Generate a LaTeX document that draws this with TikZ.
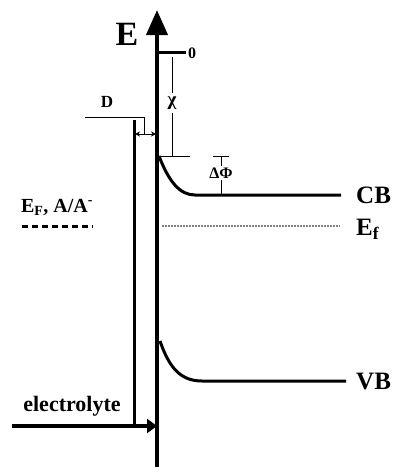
\documentclass[tikz,border=0pt]{standalone}
\usepackage{fontspec}
\setmainfont{Liberation Serif}
\usetikzlibrary{arrows.meta}

\begin{document}
\begin{tikzpicture}[x=1pt, y=-1pt,
    band/.style={line width=3pt},
    mark line/.style={line width=0.9pt},
    label/.style={font=\bfseries\fontsize{#1}{#1}\selectfont, inner sep=1pt},
    label/.default=22
]
    \useasboundingbox (0,0) rectangle (395,467);

    % Nodes
    \coordinate (axisbot) at (157,467);
    \coordinate (axistop) at (157,10);
    \node[label=34] (E) at (127,34) {E};
    \coordinate (zero0) at (157,52);
    \coordinate (zero1) at (186,52);
    \node[label=16, anchor=west] (zero) at (187,53) {0};
    \coordinate (chitop) at (172,57);
    \coordinate (chibot) at (172,156);
    \coordinate (chitick0) at (159,156);
    \coordinate (chitick1) at (190,156);
    \node[label=19, inner sep=3pt] (chi) at (172,103) {χ};
    \node[label=17] (D) at (107,102) {D};
    \coordinate (dline0) at (85,117);
    \coordinate (dline1) at (144,117);
    \coordinate (dline2) at (144,134);
    \coordinate (dleft) at (135,134);
    \coordinate (dright) at (156,134);
    \coordinate (wall0) at (134,120);
    \coordinate (wall1) at (134,427);
    \coordinate (cb0) at (159,156);
    \coordinate (cb1) at (195,195);
    \coordinate (cb2) at (341,195);
    \node[label=25, anchor=west] (CB) at (355,195) {CB};
    \coordinate (dphitop) at (221,156);
    \coordinate (dphibot) at (221,195);
    \coordinate (dphitick0) at (213,156);
    \coordinate (dphitick1) at (229,156);
    \node[label=16, inner sep=1.5pt] (dphi) at (221,173) {ΔΦ};
    \coordinate (ef0) at (162,226);
    \coordinate (ef1) at (340,226);
    \node[label=25, anchor=west] (Ef) at (355,229) {E\textsubscript{f}};
    \node[label=20] (EFA) at (57,207) {E\textsubscript{F}, A/A\textsuperscript{-}};
    \coordinate (efa0) at (22,226);
    \coordinate (efa1) at (93,226);
    \coordinate (vb0) at (160,341);
    \coordinate (vb1) at (202,381);
    \coordinate (vb2) at (346,381);
    \node[label=25, anchor=west] (VB) at (355,381) {VB};
    \node[label=22] (electrolyte) at (72,406) {electrolyte};
    \coordinate (el0) at (12,426);
    \coordinate (el1) at (157,426);

    % Lines
    \draw[line width=4pt, -{Triangle[length=25pt, width=21pt]}] (axisbot) -- (axistop);
    \draw[band] (zero0) -- (zero1);
    \draw[mark line] (chitop) -- (chi) -- (chibot);
    \draw[mark line] (chitick0) -- (chitick1);
    \draw[mark line] (dline0) -- (dline1) -- (dline2);
    \draw[mark line, {Stealth[length=5pt, width=5pt]}-{Stealth[length=5pt, width=5pt]}] (dleft) -- (dright);
    \draw[band] (wall0) -- (wall1);
    \draw[band] (cb0) .. controls (169,182) and (180,195) .. (cb1) -- (cb2);
    \draw[mark line] (dphitick0) -- (dphitick1);
    \draw[mark line] (dphitop) -- (dphi) -- (dphibot);
    \draw[line width=1.6pt, gray, dash pattern=on 1.6pt off 1.4pt] (ef0) -- (ef1);
    \draw[line width=3pt, dash pattern=on 6pt off 4pt] (efa0) -- (efa1);
    \draw[band] (vb0) .. controls (169,367) and (180,381) .. (vb1) -- (vb2);

    % Arrows
    \draw[line width=4pt, -{Triangle[length=10pt, width=14pt]}] (el0) -- (el1);
\end{tikzpicture}
\end{document}
